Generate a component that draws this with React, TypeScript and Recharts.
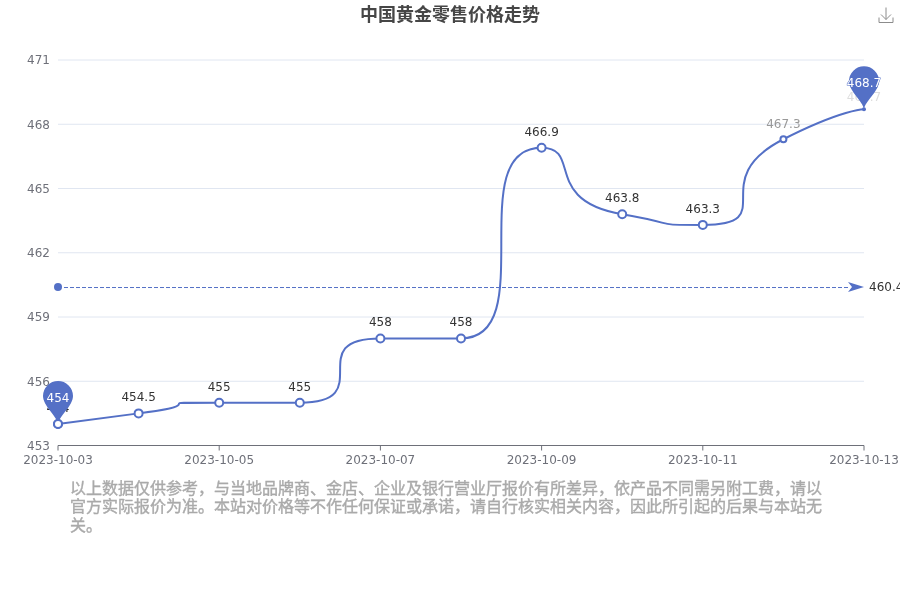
import { CartesianGrid, Line, LineChart, ReferenceDot, ReferenceLine, XAxis, YAxis } from 'recharts'

const DATES = [
  '2023-10-03', '2023-10-04', '2023-10-05', '2023-10-06', '2023-10-07', '2023-10-08',
  '2023-10-09', '2023-10-10', '2023-10-11', '2023-10-12', '2023-10-13',
]
const PRICES = [454, 454.5, 455, 455, 458, 458, 466.9, 463.8, 463.3, 467.3, 468.7]
const Y_TICKS = [453, 456, 459, 462, 465, 468, 471]
const MEAN_PRICE = 460.4
const NOTE_LINES = [
  '以上数据仅供参考，与当地品牌商、金店、企业及银行营业厅报价有所差异，依产品不同需另附工费，请以',
  '官方实际报价为准。本站对价格等不作任何保证或承诺，请自行核实相关内容，因此所引起的后果与本站无',
  '关。',
]

const BLUE = '#5470c6'
const FONT = '"DejaVu Sans", "Noto Sans CJK SC", sans-serif'

const data = DATES.map((date, i) => ({ date, price: PRICES[i] }))

const clamp = (v: number, a: number, b: number) => Math.max(Math.min(a, b), Math.min(v, Math.max(a, b)))

// same control point logic as an echarts line with smooth: 1
function smoothCurve(context: any) {
  let pts: number[][] = []
  return {
    areaStart() {},
    areaEnd() {},
    lineStart() {
      pts = []
    },
    point(x: number, y: number) {
      pts.push([+x, +y])
    },
    lineEnd() {
      const n = pts.length
      if (!n) return
      context.moveTo(pts[0][0], pts[0][1])
      let cp0 = pts[0]
      for (let i = 1; i < n; i++) {
        const [x, y] = pts[i]
        if (i === n - 1) {
          context.bezierCurveTo(cp0[0], cp0[1], x, y, x, y)
          break
        }
        const [px, py] = pts[i - 1]
        const [nx, ny] = pts[i + 1]
        const lenPrev = Math.hypot(x - px, y - py)
        const lenNext = Math.hypot(x - nx, y - ny)
        const ratio = lenNext / (lenNext + lenPrev)
        let c1x = clamp(x + (nx - px) * ratio, x, nx)
        let c1y = clamp(y + (ny - py) * ratio, y, ny)
        const c0x = clamp(x - ((c1x - x) * lenPrev) / lenNext, px, x)
        const c0y = clamp(y - ((c1y - y) * lenPrev) / lenNext, py, y)
        c1x = x + ((x - c0x) * lenNext) / lenPrev
        c1y = y + ((y - c0y) * lenNext) / lenPrev
        context.bezierCurveTo(cp0[0], cp0[1], c0x, c0y, x, y)
        cp0 = [c1x, c1y]
      }
    },
  }
}

function PriceDot({ cx, cy, index }: any) {
  const last = PRICES.length - 1
  if (index === last) return <circle key={index} cx={cx} cy={cy} r={2} fill={BLUE} />
  const r = index === last - 1 ? 3 : 4
  return <circle key={index} cx={cx} cy={cy} r={r} fill="#fff" stroke={BLUE} strokeWidth={2} />
}

function Pin({ cx, cy, value }: any) {
  const mid = cy - 28
  const d = `M${cx} ${cy} C${cx - 1} ${cy - 8} ${cx - 15} ${mid + 10} ${cx - 15} ${mid} A15 15 0 1 1 ${cx + 15} ${mid} C${cx + 15} ${mid + 10} ${cx + 1} ${cy - 8} ${cx} ${cy} Z`
  return (
    <g>
      <path d={d} fill={BLUE} />
      <text
        x={cx} y={mid + 2} fill="#fff" fontSize={12} fontFamily={FONT} textAnchor="middle" dominantBaseline="central"
        stroke={BLUE} strokeWidth={1} paintOrder="stroke"
      >
        {value}
      </text>
    </g>
  )
}

// pins live with the labels so that they cover the first and last value
function PriceLabel({ x, y, value, index }: any) {
  const last = PRICES.length - 1
  let fill = '#333'
  let gap = 16
  if (index === last) {
    fill = '#ddd'
    gap = 12
  }
  if (index === last - 1) {
    fill = '#999'
    gap = 15
  }
  return (
    <g key={index}>
      <text x={x} y={y - gap} fill={fill} fontSize={12} fontFamily={FONT} textAnchor="middle" dominantBaseline="central">
        {value}
      </text>
      {(index === 0 || index === last) && <Pin cx={x} cy={y} value={value} />}
      {index === 0 && <PriceDot cx={x} cy={y} index={index} />}
    </g>
  )
}

function MeanLine({ x1, y1, x2 }: any) {
  return <line x1={x1 + 6} y1={y1 + 0.5} x2={x2 - 14} y2={y1 + 0.5} stroke={BLUE} strokeDasharray="4 2" />
}

function MeanStart({ cx, cy }: any) {
  return <circle cx={cx} cy={cy} r={4} fill={BLUE} />
}

function MeanEnd({ cx, cy }: any) {
  return (
    <g>
      <path d={`M${cx} ${cy} L${cx - 16} ${cy + 5} L${cx - 12} ${cy} L${cx - 16} ${cy - 5} Z`} fill={BLUE} />
      <text x={cx + 5} y={cy} fill="#333" fontSize={12} fontFamily={FONT} dominantBaseline="central">
        {MEAN_PRICE}
      </text>
    </g>
  )
}

export default function App() {
  return (
    <div style={{ position: 'absolute', left: 0, top: 0, width: 900, height: 600, overflow: 'hidden', willChange: 'transform' }}>
      <div style={{ position: 'absolute', left: 0, top: 3, width: 900, textAlign: 'center', fontSize: 18, lineHeight: '24px', fontWeight: 700, color: '#464646', fontFamily: FONT }}>
        中国黄金零售价格走势
      </div>
      <svg style={{ position: 'absolute', left: 878, top: 7 }} width={16} height={17} fill="none" stroke="#8c8c8c" strokeWidth={1}>
        <path d="M1 10.5 V15.5 H15 V10.5 M8 0.5 V12.5 M3 7.5 L8 12.5 L13 7.5" />
      </svg>
      <LineChart
        width={900}
        height={600}
        data={data}
        margin={{ top: 60, right: 36, bottom: 124.5, left: 0 }}
      >
        <CartesianGrid horizontal vertical={false} stroke="#E0E6F1" />
        <XAxis
          dataKey="date"
          interval={1}
          height={30}
          padding={{ left: 0, right: 0 }}
          stroke="#6E7079"
          tickSize={5}
          tickMargin={5}
          tick={{ fill: '#6E7079', fontSize: 12, fontFamily: FONT }}
        />
        <YAxis
          width={58}
          domain={[453, 471]}
          ticks={Y_TICKS}
          axisLine={false}
          tickLine={false}
          tickMargin={2}
          tick={{ fill: '#6E7079', fontSize: 12, fontFamily: FONT }}
        />
        <ReferenceLine y={MEAN_PRICE} shape={(p: any) => <MeanLine {...p} />} />
        <Line
          dataKey="price"
          type={smoothCurve as any}
          stroke={BLUE}
          strokeWidth={2}
          dot={(p: any) => <PriceDot key={p.index} {...p} />}
          label={(p: any) => <PriceLabel key={p.index} {...p} />}
          isAnimationActive={false}
        />
        <ReferenceDot x={DATES[0]} y={MEAN_PRICE} shape={(p: any) => <MeanStart {...p} />} />
        <ReferenceDot x={DATES[DATES.length - 1]} y={MEAN_PRICE} shape={(p: any) => <MeanEnd {...p} />} />
      </LineChart>
      <div style={{ position: 'absolute', left: 70, top: 479.5, fontSize: 16, lineHeight: '18.5px', color: '#aaa', WebkitTextStroke: '0.4px #aaa', fontFamily: FONT, whiteSpace: 'nowrap' }}>
        {NOTE_LINES.map(line => (
          <div key={line}>{line}</div>
        ))}
      </div>
    </div>
  )
}
